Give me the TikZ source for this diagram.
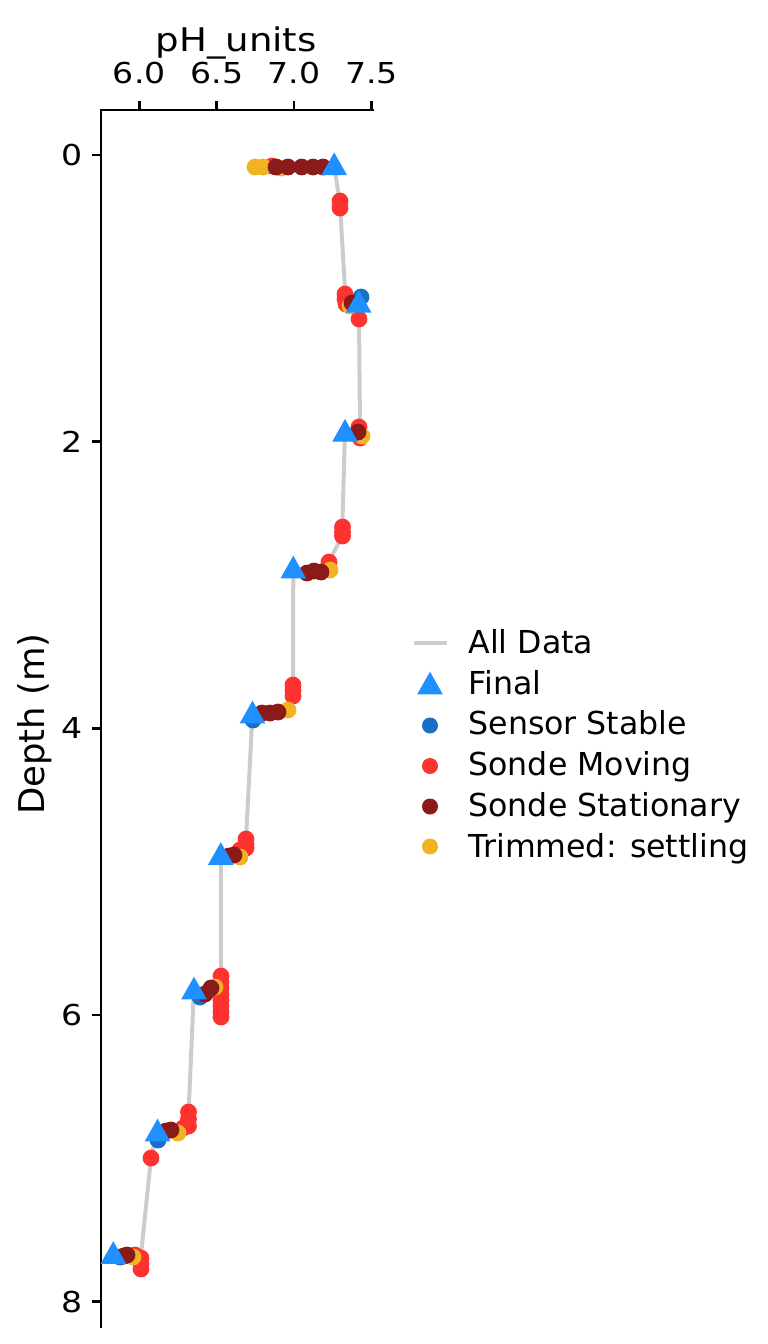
\documentclass[tikz,border=0pt]{standalone}
\usepackage{fontspec}
\setmainfont{DejaVu Sans}
\usepackage{graphicx}
\definecolor{allgray}{RGB}{204,204,204}
\definecolor{finalblue}{RGB}{30,144,255}
\definecolor{stableblue}{RGB}{25,110,200}
\definecolor{movred}{RGB}{255,50,50}
\definecolor{statred}{RGB}{139,26,26}
\definecolor{trimyel}{RGB}{240,180,35}
\tikzset{
  dot/.pic={\fill[#1] (0,0) circle[radius=3.15pt];},
  legdot/.pic={\fill[#1] (0,0) circle[radius=3.0pt];},
  tri/.pic={\fill[finalblue] (0,-11.3) -- (12.8,11.3) -- (-12.8,11.3) -- cycle;},
  spine/.style={line width=0.95pt, line cap=rect},
  tickline/.style={line width=0.95pt},
  allline/.style={allgray, line width=1.5pt, line join=round},
  ticklab/.style={inner sep=0pt, font=\fontsize{10.8pt}{12pt}\selectfont},
  leglab/.style={inner sep=0pt, anchor=base west, font=\fontsize{11.85pt}{13pt}\selectfont}
}
\begin{document}
\begin{tikzpicture}[x=0.375pt,y=-0.375pt]
\useasboundingbox (0,0) rectangle (768,1344);
% spines
\draw[spine] (101,1327) -- (101,110) -- (373,110);
% x ticks
\foreach \xx/\lab in {139.3/6.0, 216.75/6.5, 294.2/7.0, 371.65/7.5} {
  \draw[tickline] (\xx,110) -- (\xx,100.5);
  \node[ticklab, anchor=base] at (\xx,83.3) {\scalebox{1.15}[1]{\lab}};
}
% y ticks
\foreach \yy/\lab in {155/0, 441.7/2, 728.3/4, 1015/6, 1301.7/8} {
  \draw[tickline] (101,\yy) -- (91.5,\yy);
  \node[ticklab, anchor=base east] at (83.5,\yy+10.3) {\scalebox{1.15}[1]{\lab}};
}
\node[inner sep=0pt, anchor=base, font=\fontsize{12.2pt}{14pt}\selectfont] (xlab) at (236.2,51.7) {\scalebox{1.14}[1]{pH\_units}};
\node[inner sep=0pt, anchor=base, rotate=90, font=\fontsize{13.3pt}{15pt}\selectfont] (ylab) at (45,724) {Depth (m)};
% all data line
\draw[allline] (256,167) -- (334,164) -- (340,204) -- (345,290) -- (345,298) -- (352,303) -- (358.5,301.5) -- (359,319) -- (360,425) -- (360,436) -- (358,432) -- (345,430.5) -- (342.5,520) -- (342.5,536) -- (336,548) -- (329,562) -- (321,572) -- (307,573) -- (293.3,567) -- (293,677) -- (293,696) -- (288,710) -- (262,713) -- (252.5,712) -- (246.5,830) -- (246,848) -- (240,857) -- (229,856) -- (220.8,853.5) -- (221,967) -- (221,1017) -- (211,988) -- (205,994) -- (194,988) -- (189,1103) -- (188.5,1126) -- (178,1133) -- (166,1131) -- (157.5,1130) -- (151,1158) -- (141.5,1250) -- (141,1269) -- (133,1257) -- (124,1256) -- (113.3,1252.5);
% sensor stable
\foreach \x/\y in {361/297, 253/720, 200/997, 158/1140, 120/1257}
  \pic at (\x,\y) {dot=stableblue};
% sonde moving
\foreach \x/\y in {272/166, 340/201, 340/208,
  345/294, 345/299, 346/304, 359/319,
  359/427, 359/432, 360/438,
  342.5/527, 342.5/532, 342.5/536, 329/562,
  293/685, 293/690, 293/696,
  246/839, 246/844, 246/848, 240/850,
  221/976, 221/982, 221/988, 221/994, 221/1000, 221/1006, 221/1012, 221/1017,
  188.5/1112, 188.5/1119, 188.5/1126, 183/1128, 151/1158,
  141/1258, 141/1264, 141/1269, 135/1255}
  \pic at (\x,\y) {dot=movred};
% trimmed: settling
\foreach \x/\y in {255/167, 263/167, 281/168, 350/306, 362/436, 330/570,
  288/710, 240/857, 215/987, 178/1133, 133/1257}
  \pic at (\x,\y) {dot=trimyel};
% sonde stationary
\foreach \x/\y in {276/167, 288/167, 301.7/167, 313/167, 323/167,
  352/303, 358/432,
  307/573, 314/571, 321/572,
  262/713, 270/713, 278/712,
  229/856, 234/855,
  205/994, 211/988,
  166/1131, 171/1130,
  124/1256, 127/1255}
  \pic at (\x,\y) {dot=statred};
% final
\foreach \x/\y in {334.2/163.8, 358.7/301.3, 345/430.3, 293.3/567, 252.5/712,
  220.8/853.5, 194/988, 157.5/1130, 113.3/1252.5}
  \pic at (\x,\y) {tri};
% legend
\draw[allline] (414,642.5) -- (447,642.5);
\pic at (430,683) {tri};
\pic at (430,725.5) {legdot=stableblue};
\pic at (430,766) {legdot=movred};
\pic at (430,806.5) {legdot=statred};
\pic at (430,846.5) {legdot=trimyel};
\node[leglab] (l1) at (468,653.5) {All Data};
\node[leglab] (l2) at (468,694.2) {Final};
\node[leglab] (l3) at (468,734.9) {Sensor Stable};
\node[leglab] (l4) at (468,775.6) {Sonde Moving};
\node[leglab] (l5) at (468,816.3) {Sonde Stationary};
\node[leglab] (l6) at (468,857) {Trimmed: settling};
\end{tikzpicture}
\end{document}
